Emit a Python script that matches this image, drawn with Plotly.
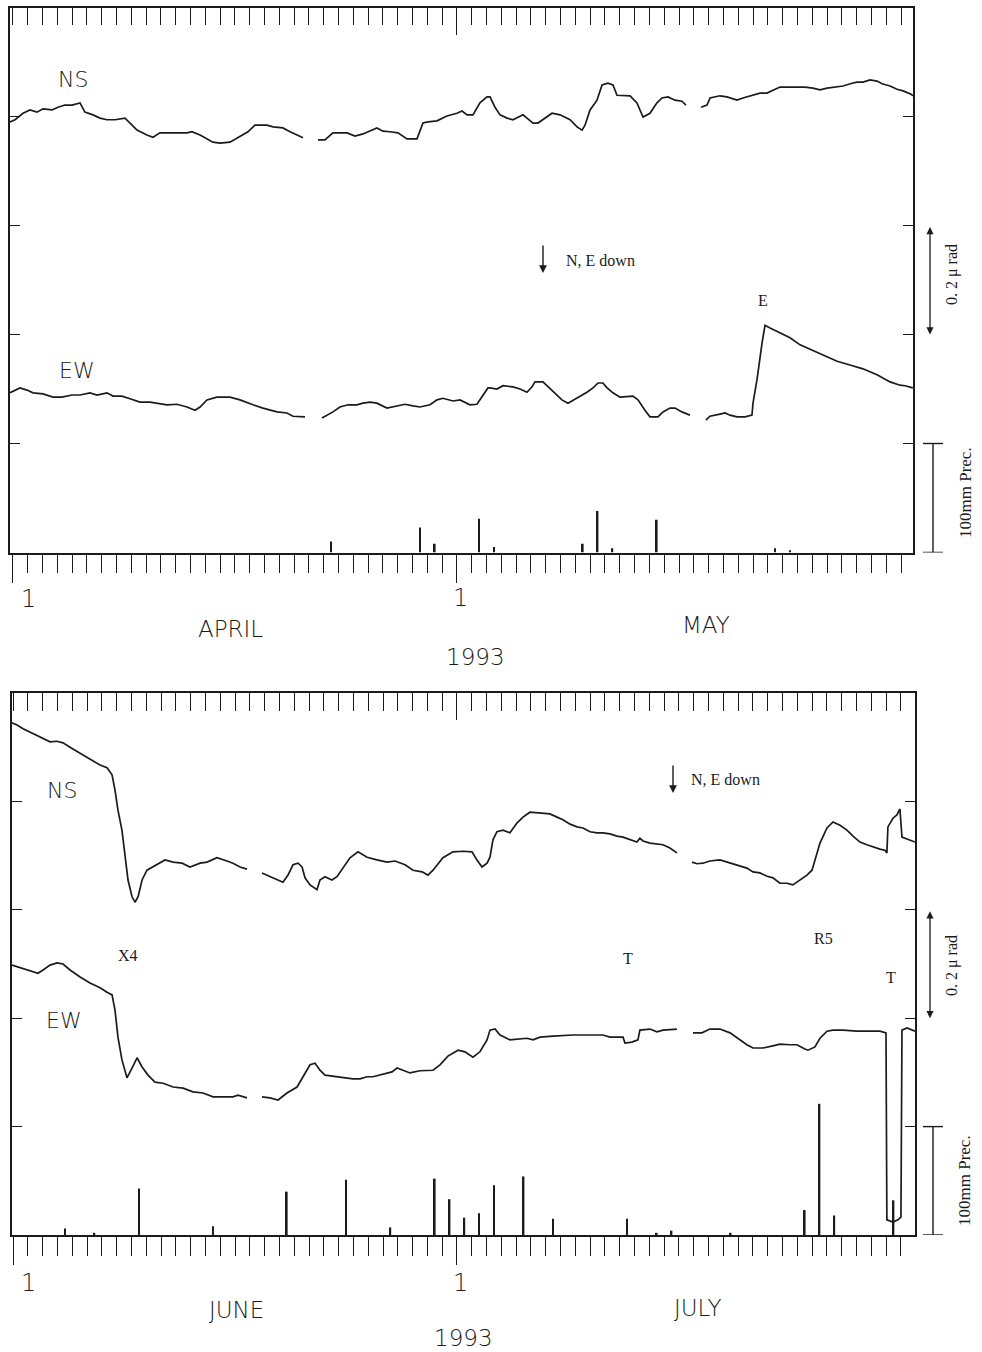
import plotly.graph_objects as go

# ---------------- April - May 1993 ----------------
# time in days after 1 April (0 = 1 April 00h), tilt in micro-radian (relative)
am_ns_day = [
    -0.2, 0.14, 0.68, 1.15, 1.62, 2.03, 2.64, 3.04, 3.51, 3.99,
    4.53, 4.86, 5.41, 5.88, 6.35, 6.89, 7.57, 8.04, 8.38, 9.05,
    9.46, 9.93, 10.81, 11.76, 12.09, 12.64, 13.51, 13.99, 14.66, 15.34,
    15.88, 16.35, 17.16, 17.57, 18.24, 18.72, 19.19, 19.6, None, 20.61,
    21.08, 21.62, 22.57, 23.11, 23.65, 24.59, 25.0, 25.47, 26.01, 26.62,
    27.3, 27.7, 28.04, 28.65, 29.32, 30.0, 30.34, 30.68, 31.08, 31.55,
    32.03, 32.23, 32.57, 32.91, 33.38, 33.78, 34.12, 34.46, 34.73, 35.14,
    35.47, 35.95, 36.42, 36.96, 37.64, 38.11, 38.45, 38.65, 38.99, 39.46,
    39.8, 40.2, 40.54, 40.81, 41.69, 42.16, 42.57, 43.04, 43.51, 43.85,
    44.26, 44.73, 45.2, 45.47, None, 46.49, 46.89, 47.1, 47.77, 48.24,
    48.92, 49.32, 50.0, 50.47, 50.95, 51.49, 51.82, 52.5, 53.51, 54.05,
    54.53, 55.0, 55.68, 56.08, 56.69, 57.03, 57.43, 57.91, 58.38, 58.72,
    59.26, 59.73, 60.14, 60.68, 60.8]
am_ns_urad = [
    0.790, 0.794, 0.806, 0.812, 0.808, 0.814, 0.812, 0.817, 0.821, 0.821,
    0.825, 0.808, 0.803, 0.797, 0.794, 0.794, 0.797, 0.784, 0.775, 0.766,
    0.762, 0.770, 0.770, 0.770, 0.772, 0.766, 0.753, 0.751, 0.753, 0.764,
    0.772, 0.784, 0.784, 0.781, 0.779, 0.772, 0.766, 0.761, None, 0.757,
    0.757, 0.770, 0.770, 0.764, 0.768, 0.779, 0.773, 0.772, 0.770, 0.759,
    0.759, 0.788, 0.790, 0.792, 0.801, 0.806, 0.810, 0.803, 0.803, 0.825,
    0.836, 0.836, 0.817, 0.803, 0.797, 0.794, 0.799, 0.803, 0.797, 0.788,
    0.788, 0.797, 0.806, 0.803, 0.794, 0.781, 0.775, 0.784, 0.812, 0.830,
    0.858, 0.861, 0.858, 0.839, 0.838, 0.825, 0.799, 0.806, 0.825, 0.834,
    0.836, 0.830, 0.828, 0.821, None, 0.817, 0.821, 0.834, 0.838, 0.836,
    0.830, 0.834, 0.839, 0.843, 0.843, 0.849, 0.854, 0.854, 0.854, 0.852,
    0.849, 0.852, 0.854, 0.856, 0.861, 0.863, 0.863, 0.867, 0.865, 0.860,
    0.856, 0.850, 0.847, 0.841, 0.838]

am_ew_day = [
    -0.2, 0.47, 0.95, 1.35, 2.03, 2.7, 3.31, 3.99, 4.53, 5.2,
    5.68, 6.35, 6.76, 7.36, 7.91, 8.58, 9.26, 9.73, 10.41, 11.08,
    11.76, 12.3, 12.64, 13.11, 13.78, 14.66, 15.34, 16.22, 16.89, 17.84,
    18.51, 18.92, 19.73, None, 20.88, 21.62, 22.09, 22.64, 23.24, 23.65,
    24.12, 24.59, 25.27, 25.95, 26.49, 27.03, 27.5, 28.18, 28.65, 29.05,
    29.73, 30.2, 30.88, 31.35, 31.76, 32.09, 32.23, 32.7, 33.11, 33.78,
    34.26, 34.73, 35.07, 35.27, 35.81, 36.15, 36.76, 37.09, 37.5, 38.11,
    38.78, 39.19, 39.53, 39.86, 40.14, 40.54, 41.01, 41.89, 42.23, 42.7,
    43.04, 43.58, 43.92, 44.39, 44.73, 45.2, 45.74, None, 46.82, 47.09,
    47.77, 48.11, 48.45, 48.92, 49.46, 49.93, 50.0, 50.27, 50.61, 50.81,
    51.15, 51.82, 52.5, 53.18, 53.85, 54.73, 55.68, 56.55, 57.43, 58.38,
    59.26, 59.93, 60.27, 60.8]
am_ew_urad = [
    0.293, 0.302, 0.298, 0.293, 0.291, 0.285, 0.285, 0.289, 0.289, 0.293,
    0.289, 0.293, 0.287, 0.287, 0.282, 0.276, 0.276, 0.274, 0.271, 0.272,
    0.267, 0.261, 0.267, 0.280, 0.285, 0.285, 0.280, 0.271, 0.265, 0.258,
    0.256, 0.250, 0.249, None, 0.247, 0.258, 0.267, 0.271, 0.271, 0.274,
    0.276, 0.274, 0.265, 0.269, 0.272, 0.269, 0.267, 0.271, 0.280, 0.283,
    0.278, 0.280, 0.271, 0.272, 0.289, 0.302, 0.302, 0.300, 0.306, 0.304,
    0.300, 0.294, 0.304, 0.313, 0.313, 0.304, 0.289, 0.280, 0.274, 0.283,
    0.294, 0.302, 0.311, 0.311, 0.302, 0.293, 0.285, 0.287, 0.280, 0.261,
    0.249, 0.249, 0.258, 0.265, 0.265, 0.258, 0.252, None, 0.243, 0.250,
    0.254, 0.256, 0.252, 0.249, 0.249, 0.252, 0.274, 0.317, 0.384, 0.417,
    0.412, 0.403, 0.394, 0.381, 0.373, 0.362, 0.351, 0.344, 0.337, 0.326,
    0.313, 0.307, 0.306, 0.302]

# daily precipitation (day index after 1 April, mm)
am_prec_day = [21, 27, 28, 31, 32, 38, 39, 40, 43, 51, 52]
am_prec_mm = [10, 23, 8, 31, 5, 8, 38, 4, 30, 4, 2]

# ---------------- June - July 1993 ----------------
jj_ns_day = [
    -0.07, 0.27, 0.68, 1.28, 1.82, 2.5, 2.97, 3.38, 3.85, 4.53,
    5.0, 5.41, 5.88, 6.35, 6.69, 6.89, 7.09, 7.36, 7.57, 7.77,
    8.04, 8.24, 8.45, 8.72, 9.05, 9.73, 10.27, 10.81, 11.42, 11.96,
    12.64, 13.11, 13.78, 14.46, 14.86, 15.34, 15.81, None, 16.82, 17.16,
    17.57, 18.24, 18.58, 18.92, 19.26, 19.53, 19.73, 20.07, 20.54, 20.74,
    21.08, 21.55, 21.89, 22.3, 22.77, 23.31, 23.92, 24.59, 25.27, 25.81,
    26.49, 27.03, 27.64, 28.04, 28.38, 29.05, 29.73, 30.41, 31.01, 31.35,
    31.69, 32.03, 32.23, 32.43, 32.7, 33.11, 33.58, 34.05, 34.46, 34.93,
    35.41, 35.81, 36.28, 36.76, 37.16, 37.64, 38.11, 38.51, 38.99, 39.46,
    39.86, 40.34, 40.81, 41.22, 41.69, 42.16, 42.36, 42.57, 43.04, 43.51,
    43.92, 44.39, 44.86, None, 45.88, 46.22, 46.62, 47.09, 47.77, 48.24,
    48.65, 49.12, 49.59, 50.0, 50.47, 50.95, 51.35, 51.82, 52.3, 52.7,
    53.18, 53.65, 53.99, 54.19, 54.53, 55.0, 55.41, 55.88, 56.35, 56.76,
    57.23, 57.7, 58.11, 58.58, 58.92, 59.05, 59.12, 59.46, 59.73, 59.93,
    60.07, 60.41, 60.95]
jj_ns_urad = [
    0.945, 0.941, 0.934, 0.926, 0.919, 0.910, 0.911, 0.908, 0.900, 0.889,
    0.882, 0.876, 0.867, 0.862, 0.849, 0.821, 0.784, 0.747, 0.697, 0.655,
    0.624, 0.614, 0.624, 0.655, 0.673, 0.683, 0.692, 0.688, 0.686, 0.679,
    0.686, 0.688, 0.696, 0.690, 0.686, 0.679, 0.675, None, 0.668, 0.664,
    0.659, 0.651, 0.664, 0.683, 0.686, 0.679, 0.659, 0.646, 0.637, 0.655,
    0.661, 0.655, 0.661, 0.677, 0.696, 0.707, 0.697, 0.692, 0.688, 0.690,
    0.683, 0.673, 0.670, 0.664, 0.673, 0.696, 0.707, 0.708, 0.707, 0.692,
    0.679, 0.686, 0.697, 0.729, 0.744, 0.747, 0.742, 0.760, 0.771, 0.780,
    0.779, 0.777, 0.777, 0.771, 0.766, 0.758, 0.753, 0.751, 0.744, 0.742,
    0.742, 0.740, 0.736, 0.734, 0.729, 0.725, 0.732, 0.727, 0.723, 0.721,
    0.720, 0.714, 0.705, None, 0.688, 0.685, 0.686, 0.690, 0.692, 0.688,
    0.685, 0.681, 0.677, 0.670, 0.668, 0.662, 0.659, 0.649, 0.649, 0.646,
    0.655, 0.664, 0.673, 0.692, 0.723, 0.751, 0.762, 0.756, 0.747, 0.736,
    0.725, 0.720, 0.716, 0.712, 0.710, 0.705, 0.753, 0.769, 0.775, 0.786,
    0.734, 0.731, 0.725]

jj_ew_day = [
    -0.07, 0.47, 1.15, 1.69, 2.03, 2.5, 2.97, 3.38, 3.85, 4.53,
    5.2, 5.88, 6.35, 6.69, 6.89, 7.09, 7.36, 7.7, 8.04, 8.38,
    8.72, 9.12, 9.59, 10.14, 10.81, 11.49, 12.16, 12.84, 13.51, 14.19,
    14.86, 15.2, 15.81, None, 16.82, 17.36, 17.91, 18.51, 19.19, 19.59,
    20.07, 20.41, 20.74, 21.08, 21.62, 22.3, 22.97, 23.45, 23.92, 24.32,
    25.0, 25.61, 25.95, 26.35, 26.82, 27.5, 28.38, 28.85, 29.39, 30.07,
    30.54, 31.08, 31.55, 32.03, 32.23, 32.57, 32.91, 33.58, 34.26, 34.73,
    35.14, 35.61, 36.49, 37.84, 38.99, 39.86, 40.34, 41.22, 41.35, 41.82,
    42.23, 42.36, 43.04, 43.51, 43.92, 44.59, 44.86, None, 45.95, 46.55,
    47.09, 47.77, 48.45, 48.99, 49.59, 50.0, 50.68, 51.35, 51.82, 52.5,
    52.97, 53.51, 53.72, 54.19, 54.53, 55.0, 55.41, 56.08, 57.03, 57.91,
    58.58, 58.99, 59.05, 59.46, 59.8, 60.0, 60.07, 60.41, 60.95]
jj_ew_urad = [
    0.498, 0.493, 0.487, 0.483, 0.489, 0.498, 0.502, 0.500, 0.489, 0.476,
    0.465, 0.456, 0.448, 0.443, 0.415, 0.365, 0.323, 0.290, 0.308, 0.327,
    0.310, 0.295, 0.282, 0.280, 0.273, 0.271, 0.264, 0.262, 0.255, 0.255,
    0.255, 0.258, 0.253, None, 0.255, 0.253, 0.249, 0.262, 0.273, 0.292,
    0.314, 0.317, 0.304, 0.295, 0.293, 0.290, 0.288, 0.288, 0.292, 0.292,
    0.297, 0.301, 0.308, 0.304, 0.299, 0.303, 0.304, 0.314, 0.330, 0.341,
    0.338, 0.328, 0.338, 0.360, 0.378, 0.380, 0.369, 0.360, 0.362, 0.363,
    0.360, 0.365, 0.367, 0.369, 0.369, 0.369, 0.365, 0.365, 0.354, 0.356,
    0.360, 0.378, 0.380, 0.375, 0.378, 0.380, 0.380, None, 0.373, 0.373,
    0.380, 0.380, 0.373, 0.362, 0.351, 0.345, 0.345, 0.349, 0.352, 0.351,
    0.351, 0.343, 0.341, 0.347, 0.363, 0.376, 0.378, 0.378, 0.376, 0.376,
    0.376, 0.373, 0.028, 0.024, 0.028, 0.033, 0.378, 0.382, 0.376]

jj_prec_day = [3, 5, 8, 13, 18, 22, 25, 28, 29, 30, 31, 32, 34, 36, 41, 43,
               44, 48, 53, 54, 55, 59]
jj_prec_mm = [6, 2, 43, 8, 40, 51, 7, 52, 33, 16, 20, 46, 54, 15, 15, 2,
              4, 2, 23, 121, 18, 32]

# month-start tick positions
month_ticks = [0, 30]

# ---------------- figure ----------------
W, H = 982, 1352
INK = "#1b1b1b"
PLOTTER = "DejaVu Sans"
SERIF = "Liberation Serif"


def fx(p):
    return p / W


def fy(p):
    return 1 - p / H


fig = go.Figure()


def add_panel(fig, ns_d, ns_v, ew_d, ew_v, pr_d, pr_mm, xa, ya, ya2, extra_x):
    line = dict(color=INK, width=1.7)
    fig.add_trace(go.Scatter(x=ns_d, y=ns_v, mode="lines", line=line,
                             xaxis=xa, yaxis=ya, showlegend=False,
                             connectgaps=False, hoverinfo="skip"))
    fig.add_trace(go.Scatter(x=ew_d, y=ew_v, mode="lines", line=line,
                             xaxis=xa, yaxis=ya, showlegend=False,
                             connectgaps=False, hoverinfo="skip"))
    fig.add_trace(go.Bar(x=[d + 0.5 for d in pr_d], y=pr_mm, width=0.11,
                         marker=dict(color=INK, line=dict(width=0)),
                         xaxis=xa, yaxis=ya2, showlegend=False,
                         hoverinfo="skip"))
    # empty traces so the tick-only overlay axes are laid out and drawn
    for xe in extra_x:
        fig.add_trace(go.Scatter(x=[None], y=[None], mode="lines",
                                 xaxis=xe, yaxis=ya, showlegend=False,
                                 hoverinfo="skip"))


add_panel(fig, am_ns_day, am_ns_urad, am_ew_day, am_ew_urad,
          am_prec_day, am_prec_mm, "x", "y", "y2", ["x2", "x3", "x4"])
add_panel(fig, jj_ns_day, jj_ns_urad, jj_ew_day, jj_ew_urad,
          jj_prec_day, jj_prec_mm, "x5", "y3", "y4", ["x6", "x7", "x8"])

frame = dict(showgrid=False, zeroline=False, linecolor=INK, linewidth=1.5,
             tickcolor=INK, tickwidth=1.3, showticklabels=False,
             fixedrange=True)


def day_axes(xrange, xdom, yname, base):
    """bottom day ticks, top day ticks, long month ticks (bottom and top)"""
    bottom = dict(frame, domain=xdom, range=xrange, anchor=yname, side="bottom",
                  showline=True, ticks="outside", ticklen=19,
                  tickmode="linear", tick0=0, dtick=1)
    top = dict(frame, domain=xdom, range=xrange, anchor=yname,
               overlaying=base, side="top",
               showline=True, ticks="inside", ticklen=18,
               tickmode="linear", tick0=0, dtick=1)
    mbottom = dict(frame, domain=xdom, range=xrange, anchor=yname,
                   overlaying=base, side="bottom", showline=False,
                   ticks="outside", ticklen=29,
                   tickmode="array", tickvals=month_ticks)
    mtop = dict(frame, domain=xdom, range=xrange, anchor=yname,
                overlaying=base, side="top", showline=False,
                ticks="inside", ticklen=27,
                tickmode="array", tickvals=month_ticks[1:])
    return bottom, top, mbottom, mtop


def tilt_axes(ydom, xname, base):
    left = dict(frame, domain=ydom, range=[0, 1.0], anchor=xname, side="left",
                showline=True, ticks="inside", ticklen=10,
                tickmode="linear", tick0=0, dtick=0.2)
    right = dict(frame, domain=ydom, range=[0, 500], anchor=xname,
                 overlaying=base, side="right", showline=True,
                 ticks="inside", ticklen=10,
                 tickmode="linear", tick0=0, dtick=100)
    return left, right


# panel frames (pixel edges)
top_x = [fx(10), fx(913)]
top_y = [fy(552.5), fy(7.5)]
bot_x = [fx(12), fx(915)]
bot_y = [fy(1235), fy(693)]

x1, x2, x3, x4 = day_axes([-0.2, 60.81], top_x, "y", "x")
x5, x6, x7, x8 = day_axes([-0.07, 60.95], bot_x, "y3", "x5")
y1, y2 = tilt_axes(top_y, "x", "y")
y3, y4 = tilt_axes(bot_y, "x5", "y3")

fig.update_layout(
    width=W, height=H, autosize=False,
    margin=dict(l=0, r=0, t=0, b=0),
    paper_bgcolor="white", plot_bgcolor="white",
    showlegend=False,
    xaxis=x1, xaxis2=x2, xaxis3=x3, xaxis4=x4,
    xaxis5=x5, xaxis6=x6, xaxis7=x7, xaxis8=x8,
    yaxis=y1, yaxis2=y2, yaxis3=y3, yaxis4=y4,
)

ann = []


def text(t, x, y, size, family, weight="normal", angle=0):
    ann.append(dict(text=t, x=fx(x), y=fy(y), xref="paper", yref="paper",
                    showarrow=False, xanchor="center", yanchor="middle",
                    textangle=angle,
                    font=dict(size=size, family=family, color=INK,
                              weight=weight)))


# --- upper panel labels
text("NS", 73, 80, 22, PLOTTER, 200)
text("EW", 77, 370, 22, PLOTTER, 200)
text("N, E down", 600, 260, 16, SERIF)
text("E", 763, 301, 16, SERIF)
text("1", 28, 599, 24, PLOTTER, 200)
text("1", 460, 598, 24, PLOTTER, 200)
text("APRIL", 230, 629, 23, PLOTTER, 200)
text("MAY", 706, 625, 23, PLOTTER, 200)
text("1993", 475, 657, 23, PLOTTER, 200)
text("0. 2 μ rad", 952, 275, 16, SERIF, angle=-90)
text("100mm Prec.", 965, 493, 17, SERIF, angle=-90)

# --- lower panel labels
text("NS", 62, 790, 22, PLOTTER, 200)
text("EW", 64, 1020, 22, PLOTTER, 200)
text("X4", 128, 956, 16, SERIF)
text("T", 628, 958, 16, SERIF)
text("R5", 823, 938, 16, SERIF)
text("T", 891, 977, 16, SERIF)
text("N, E down", 725, 780, 16, SERIF)
text("1", 28, 1283, 24, PLOTTER, 200)
text("1", 460, 1283, 24, PLOTTER, 200)
text("JUNE", 236, 1310, 23, PLOTTER, 200)
text("JULY", 697, 1308, 23, PLOTTER, 200)
text("1993", 463, 1338, 23, PLOTTER, 200)
text("0. 2 μ rad", 952, 966, 16, SERIF, angle=-90)
text("100mm Prec.", 964, 1181, 17, SERIF, angle=-90)

# "N,E down" arrows
for (ax_, ay_tip) in [(543, 273), (673, 793)]:
    ann.append(dict(text="", x=fx(ax_), y=fy(ay_tip), xref="paper",
                    yref="paper", showarrow=True, ax=0, ay=-29,
                    arrowhead=2, arrowsize=1.1, arrowwidth=1.4,
                    arrowcolor=INK))

# 0.2 micro-radian scale arrows (double headed), in tilt-axis units
for yref in ["y", "y3"]:
    ann.append(dict(text="", x=fx(930), xref="paper", y=0.4, yref=yref,
                    axref="pixel", ax=0, ayref=yref, ay=0.6,
                    showarrow=True, arrowside="end+start", arrowhead=2,
                    arrowsize=1.1, arrowwidth=1.3, arrowcolor=INK))

fig.update_layout(annotations=ann)

# 100 mm precipitation scale bars, in precipitation-axis units
shapes = []
for yref in ["y2", "y4"]:
    shapes.append(dict(type="line", xref="paper", yref=yref,
                       x0=fx(933), x1=fx(933), y0=0, y1=100,
                       line=dict(color=INK, width=1.4)))
    for yv in (0, 100):
        shapes.append(dict(type="line", xref="paper", yref=yref,
                           x0=fx(923), x1=fx(943), y0=yv, y1=yv,
                           line=dict(color=INK, width=1.4)))
fig.update_layout(shapes=shapes)

fig.write_html("out.html")
